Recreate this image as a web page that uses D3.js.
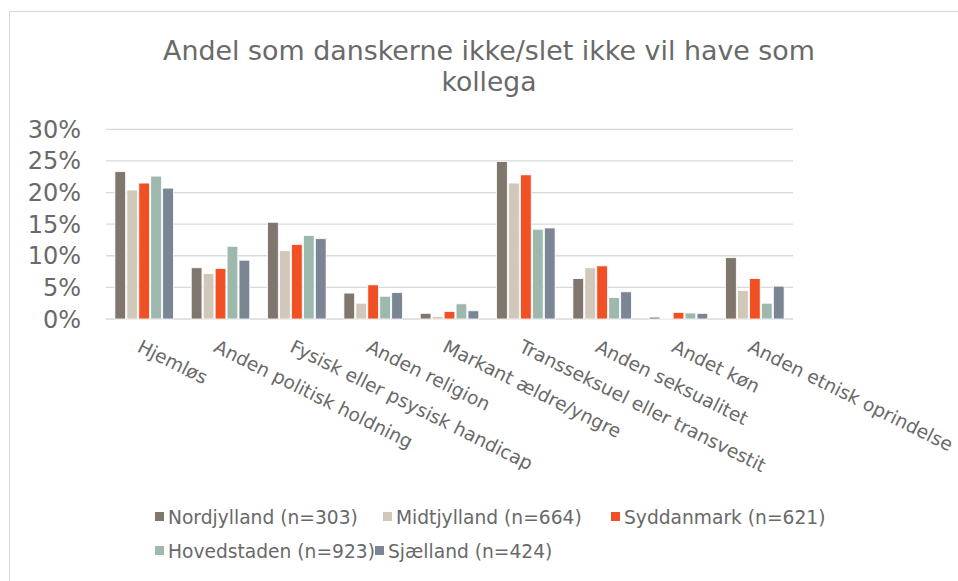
<!DOCTYPE html>
<html>
<head>
<meta charset="utf-8">
<script src="https://cdn.jsdelivr.net/npm/d3@7"></script>
<style>
  body { margin: 0; background: #fff; }
  text { font-family: "DejaVu Sans", Verdana, sans-serif; fill: #696969; }
</style>
</head>
<body>
<svg id="chart" width="958" height="581"></svg>
<script>
// chart data
const categories = [
  "Hjemløs",
  "Anden politisk holdning",
  "Fysisk eller psysisk handicap",
  "Anden religion",
  "Markant ældre/yngre",
  "Transseksuel eller transvestit",
  "Anden seksualitet",
  "Andet køn",
  "Anden etnisk oprindelse"
];
const seriesNames = [
  "Nordjylland (n=303)",
  "Midtjylland (n=664)",
  "Syddanmark (n=621)",
  "Hovedstaden (n=923)",
  "Sjælland (n=424)"
];
const nordjylland = [23.3, 8.1, 15.3, 4.1, 0.9, 24.9, 6.4, 0.3, 9.7];
const midtjylland = [20.4, 7.2, 10.8, 2.5, 0.4, 21.5, 8.1, 0.15, 4.5];
const syddanmark = [21.5, 8.0, 11.8, 5.4, 1.2, 22.8, 8.4, 1.05, 6.4];
const hovedstaden = [22.6, 11.5, 13.2, 3.6, 2.4, 14.2, 3.4, 0.95, 2.5];
const sjaelland = [20.7, 9.3, 12.7, 4.2, 1.3, 14.4, 4.3, 0.9, 5.2];
const yTicks = [0, 5, 10, 15, 20, 25, 30];
const colors = ["#7f776e", "#d1c7bb", "#f15025", "#9db8ad", "#7b8594"];

const series = [nordjylland, midtjylland, syddanmark, hovedstaden, sjaelland];

const svg = d3.select("#chart");
const plot = { left: 106, right: 793, top: 129.3, bottom: 319 };

// outer frame of the chart area
svg
  .append("rect")
  .attr("x", 9.5)
  .attr("y", 11.5)
  .attr("width", 1000)
  .attr("height", 1000)
  .attr("fill", "none")
  .attr("stroke", "#d9d9d9");

// title (two lines)
svg
  .append("text")
  .attr("x", 489)
  .attr("y", 60)
  .attr("text-anchor", "middle")
  .attr("font-size", 26.7)
  .attr("textLength", 652)
  .attr("lengthAdjust", "spacingAndGlyphs")
  .text("Andel som danskerne ikke/slet ikke vil have som");
svg
  .append("text")
  .attr("x", 489)
  .attr("y", 91)
  .attr("text-anchor", "middle")
  .attr("font-size", 26.7)
  .attr("textLength", 95)
  .attr("lengthAdjust", "spacingAndGlyphs")
  .text("kollega");

// scales
const x0 = d3
  .scaleBand()
  .domain(categories)
  .range([plot.left, plot.right])
  .paddingInner(0.233)
  .paddingOuter(0.1165);
const x1 = d3
  .scaleBand()
  .domain(d3.range(series.length))
  .range([0, x0.bandwidth()])
  .paddingInner(0.1);
const y = d3
  .scaleLinear()
  .domain([0, 30])
  .range([plot.bottom, plot.top]);

// gridlines
svg
  .append("g")
  .selectAll("line")
  .data(yTicks)
  .join("line")
  .attr("x1", plot.left)
  .attr("x2", plot.right)
  .attr("y1", (d) => y(d))
  .attr("y2", (d) => y(d))
  .attr("stroke", "#d9d9d9")
  .attr("stroke-width", 1.3);

// y labels
svg
  .append("g")
  .selectAll("text")
  .data(yTicks)
  .join("text")
  .attr("x", 81)
  .attr("y", (d) => y(d) + 8.5)
  .attr("text-anchor", "end")
  .attr("font-size", 24)
  .text((d) => d + "%");

// bars
const groups = svg
  .append("g")
  .selectAll("g")
  .data(categories)
  .join("g")
  .attr("transform", (d) => `translate(${x0(d)},0)`);

groups
  .selectAll("rect")
  .data((d, i) => series.map((s, j) => ({ j, v: s[i] })))
  .join("rect")
  .attr("x", (d) => x1(d.j))
  .attr("width", x1.bandwidth())
  .attr("y", (d) => y(d.v))
  .attr("height", (d) => y(0) - y(d.v))
  .attr("fill", (d) => colors[d.j])
  .attr("stroke", "#fff")
  .attr("stroke-width", 0.8);

// rotated category labels
svg
  .append("g")
  .selectAll("text")
  .data(categories)
  .join("text")
  .attr(
    "transform",
    (d) => `translate(${x0(d) + x0.bandwidth() / 2 - 8},351) rotate(26.5)`
  )
  .attr("font-size", 18.67)
  .text((d) => d);

// legend
const legendPos = [
  [155, 512],
  [383, 512],
  [611, 512],
  [155, 546],
  [375, 546]
];
const legend = svg
  .append("g")
  .selectAll("g")
  .data(seriesNames)
  .join("g")
  .attr("transform", (d, i) => `translate(${legendPos[i][0]},${legendPos[i][1]})`);

legend
  .append("rect")
  .attr("width", 9)
  .attr("height", 9)
  .attr("fill", (d, i) => colors[i]);

legend
  .append("text")
  .attr("x", 13)
  .attr("y", 12)
  .attr("font-size", 18.67)
  .text((d) => d);
</script>
</body>
</html>
